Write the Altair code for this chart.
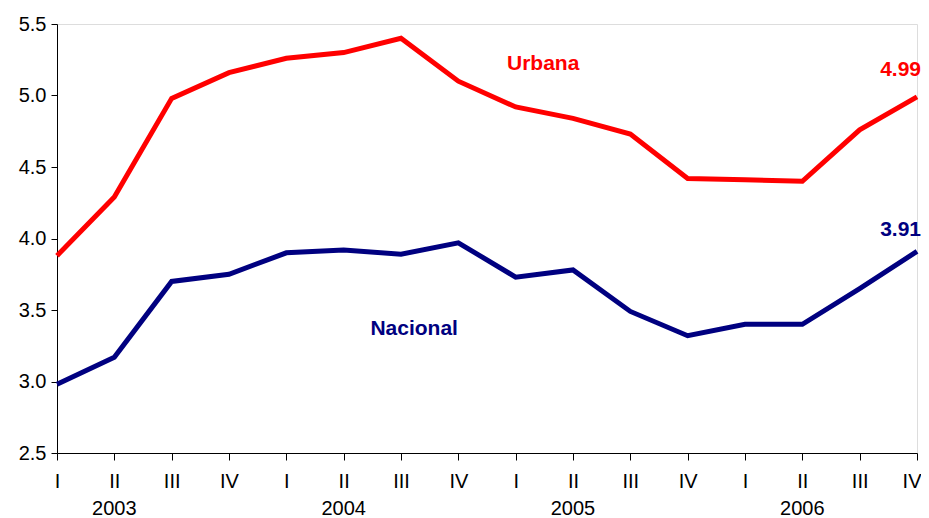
import altair as alt
import pandas as pd

quarters = list(range(16))
urbana = [3.88, 4.29, 4.98, 5.16, 5.26, 5.30, 5.40, 5.10,
          4.92, 4.84, 4.73, 4.42, 4.41, 4.40, 4.76, 4.99]
nacional = [2.98, 3.17, 3.70, 3.75, 3.90, 3.92, 3.89, 3.97,
            3.73, 3.78, 3.49, 3.32, 3.40, 3.40, 3.65, 3.91]
years = ["2003", "2004", "2005", "2006"]
year_pos = [1, 5, 9, 13]

series_names = ["Urbana", "Nacional"]
series_colors = ["#FF0000", "#000080"]

rows = []
for q, u, n in zip(quarters, urbana, nacional):
    rows.append({"q": q, "v": u, "s": "Urbana"})
    rows.append({"q": q, "v": n, "s": "Nacional"})
df = pd.DataFrame(rows)

W, H = 860, 429
FONT = "Liberation Sans"

x_scale = alt.Scale(domain=[0, 15], nice=False, zero=False)
y_scale = alt.Scale(domain=[2.5, 5.5], nice=False, zero=False)
c_scale = alt.Scale(domain=series_names, range=series_colors)

lines = alt.Chart(df).mark_line(strokeWidth=5).encode(
    x=alt.X("q:Q", scale=x_scale,
            axis=alt.Axis(title=None, values=quarters, tickCount=16,
                          labelExpr="['I','II','III','IV'][datum.value % 4]",
                          labelFont=FONT, labelFontSize=20, labelColor="#000",
                          labelPadding=11, tickSize=7, tickColor="#000",
                          domainColor="#000", grid=False, labelFlush=False,
                          labelAlign={"condition": {"test": "datum.value == 15", "value": "right"},
                                      "value": "center"},
                          labelOffset={"condition": {"test": "datum.value == 15", "value": 4},
                                       "value": 0})),
    y=alt.Y("v:Q", scale=y_scale,
            axis=alt.Axis(title=None, values=[2.5, 3.0, 3.5, 4.0, 4.5, 5.0, 5.5],
                          format=".1f", labelFont=FONT, labelFontSize=20,
                          labelColor="#000", labelPadding=5, tickSize=6,
                          tickColor="#000", domainColor="#000", grid=False)),
    color=alt.Color("s:N", scale=c_scale, legend=None),
    detail="s:N",
)

lab_df = pd.DataFrame({
    "x": [8.48, 6.23, 15.0, 15.0],
    "y": [5.22, 3.37, 5.18, 4.06],
    "t": ["Urbana", "Nacional", "4.99", "3.91"],
    "s": ["Urbana", "Nacional", "Urbana", "Nacional"],
    "a": ["center", "center", "right", "right"],
})

labels_c = alt.Chart(lab_df[lab_df.a == "center"]).mark_text(
    font=FONT, fontSize=21, fontWeight="bold", align="center", baseline="middle"
).encode(
    x=alt.X("x:Q", scale=x_scale),
    y=alt.Y("y:Q", scale=y_scale),
    text="t:N",
    color=alt.Color("s:N", scale=c_scale, legend=None),
)
labels_r = alt.Chart(lab_df[lab_df.a == "right"]).mark_text(
    font=FONT, fontSize=21, fontWeight="bold", align="right", baseline="middle", dx=4
).encode(
    x=alt.X("x:Q", scale=x_scale),
    y=alt.Y("y:Q", scale=y_scale),
    text="t:N",
    color=alt.Color("s:N", scale=c_scale, legend=None),
)

year_df = pd.DataFrame({"x": year_pos, "t": years})
year_text = alt.Chart(year_df).mark_text(
    font=FONT, fontSize=20, color="#000", align="center", baseline="middle"
).encode(
    x=alt.X("x:Q", scale=x_scale),
    y=alt.value(H + 56),
    text="t:N",
)

chart = alt.layer(lines, labels_c, labels_r, year_text).properties(
    width=W, height=H,
    autosize=alt.AutoSizeParams(type="none"),
    padding={"left": 49, "top": 16, "right": 4, "bottom": 65},
).configure_view(stroke=None).configure(background="white")

chart.save("out.html", embed_options={"renderer": "svg", "actions": False})
